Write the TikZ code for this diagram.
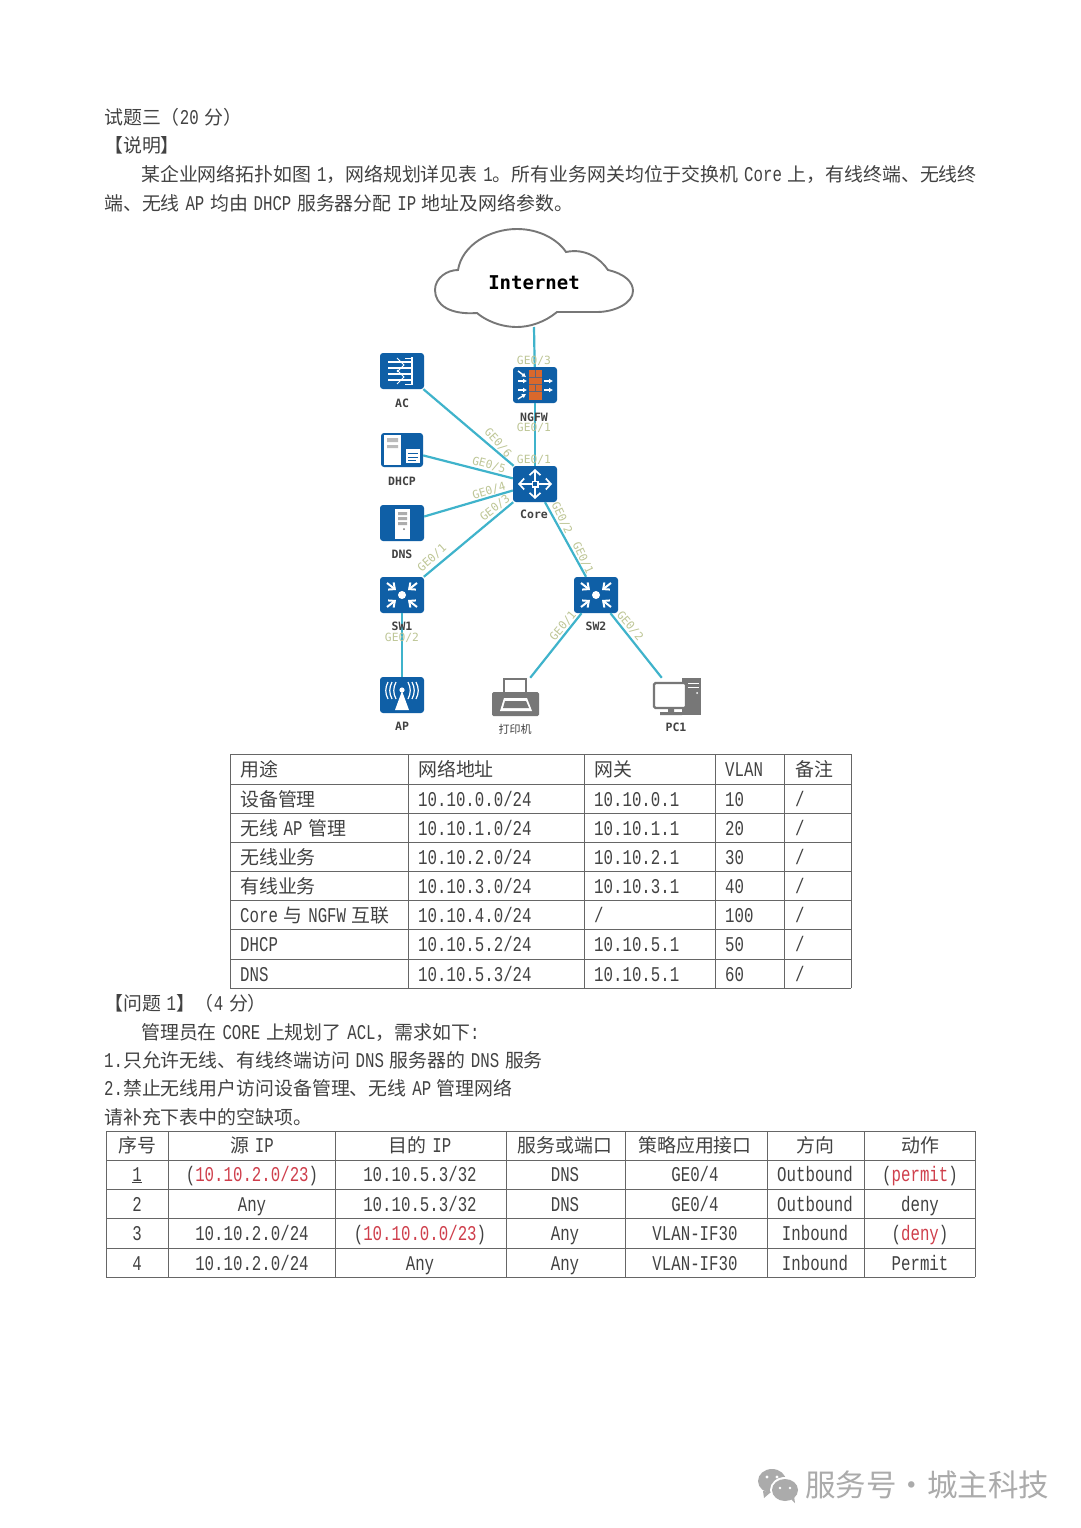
\documentclass[tikz,border=0pt]{standalone}
\usepackage{fontspec}
\usetikzlibrary{arrows.meta, positioning, shapes.geometric}
\setmainfont{Liberation Mono}[FakeStretch=0.75]
\newfontfamily\cjk[Scale=0.9]{Noto Sans CJK SC}
\newfontfamily\devmono{DejaVu Sans Mono}
\newfontfamily\marksans{Noto Sans CJK SC}
\newcommand{\zh}[1]{{\cjk #1}}
\newcommand{\gap}{\hspace{5.7pt}}
\newcommand{\red}[1]{\textcolor{ansred}{#1}}
\definecolor{anstext}{HTML}{424242}
\definecolor{ansred}{HTML}{CF3F4C}
\definecolor{devblue}{HTML}{0F5FA6}
\definecolor{linkcyan}{HTML}{3FB3CB}
\definecolor{portgreen}{HTML}{BEC696}
\definecolor{gridgray}{HTML}{666666}
\definecolor{devgray}{HTML}{777777}
\definecolor{brick}{HTML}{D9682C}
\definecolor{markgray}{HTML}{ABABAB}
\tikzset{
  bodyline/.style={anchor=base west, inner sep=0pt, text=anstext, font=\fontsize{21}{21}\selectfont},
  cellleft/.style={bodyline},
  cellmid/.style={bodyline, anchor=base},
  grid/.style={draw=gridgray, line width=1pt},
  device/.style={rectangle, rounded corners=3pt, fill=devblue, minimum width=44pt, minimum height=36pt, inner sep=0pt},
  plainbox/.style={rectangle, minimum width=46pt, minimum height=38pt, inner sep=0pt},
  devlbl/.style={inner sep=0pt, text=anstext, font=\devmono\bfseries\fontsize{11.5}{11.5}\selectfont},
  port/.style={inner sep=0pt, text=portgreen, font=\devmono\fontsize{11.3}{11.3}\selectfont},
  link/.style={draw=linkcyan, line width=2.2pt},
  swglyph/.pic={
    \fill[white] (0,0) circle (4);
    \foreach \sx/\sy in {-1/-1,1/-1,-1/1,1/1}
      \draw[white, line width=2pt, -{Straight Barb[length=5pt,width=9pt]}] (\sx*15,\sy*12) -- (\sx*6,\sy*5);
  },
  coreglyph/.pic={
    \foreach \ax/\ay in {0/-15,0/15,-17/0,17/0}
      \draw[white, line width=1.7pt, -{Straight Barb[length=5pt,width=11pt]}] (0,0) -- (\ax,\ay);
    \fill[white] (-3.5,-3.5) rectangle (3.5,3.5);
    \fill[devblue] (-1.7,-1.7) rectangle (1.7,1.7);
  },
}
\begin{document}
\begin{tikzpicture}[x=1pt, y=-1pt]
  \useasboundingbox[fill=white] (0,0) rectangle (1081,1528);
  % intro
  \node[bodyline] (h1) at (104,124) {\zh{试题三（}20\gap\zh{分）}};
  \node[bodyline] (h2) at (104,152) {\zh{【说明】}};
  \node[bodyline] (p1) at (141,181) {\zh{某企业网络拓扑如图}\gap 1\zh{，网络规划详见表}\gap 1\zh{。所有业务网关均位于交换机}\gap Core\gap\zh{上，有线终端、无线终}};
  \node[bodyline] (p2) at (104,210) {\zh{端、无线}\gap AP\gap\zh{均由}\gap DHCP\gap\zh{服务器分配}\gap IP\gap\zh{地址及网络参数。}};
  % cloud
  \draw[draw=devgray, line width=1.9pt, fill=white] (458,270) .. controls (462,245) and (490,229) .. (517,229)
    .. controls (540,229) and (558,240) .. (566,252) .. controls (585,248) and (600,258) .. (608,270)
    .. controls (625,274) and (633,282) .. (633,291) .. controls (633,303) and (615,312) .. (597,312)
    .. controls (580,312) and (570,312) .. (557,312) .. controls (545,322) and (530,327) .. (517,327)
    .. controls (500,327) and (485,320) .. (477,313) .. controls (450,315) and (435,305) .. (435,290)
    .. controls (435,278) and (447,270) .. (458,270) -- cycle;
  \node[inner sep=0pt, text=black, font=\devmono\bfseries\fontsize{19}{19}\selectfont] (inet) at (534,283) {Internet};
  \coordinate (cloudb) at (534,327);
  % devices
  \node[device] (ac) at (402,371) {};
  \node[device] (ngfw) at (535,385) {};
  \node[device, minimum width=42pt, minimum height=34pt] (dhcp) at (402,450) {};
  \node[device] (core) at (535,484) {};
  \node[device] (dns) at (402,523) {};
  \node[device] (swa) at (402,595) {};
  \node[device] (swb) at (596,595) {};
  \node[device] (ap) at (402,695) {};
  \node[plainbox] (printer) at (515,697) {};
  \node[plainbox] (pc) at (677,697) {};
  % links
  \draw[link] (cloudb) -- (ngfw);
  \draw[link] (ngfw) -- (core);
  \draw[link] (ac) -- (core);
  \draw[link] (dhcp) -- (core);
  \draw[link] (dns) -- (core);
  \draw[link] (swa) -- (core);
  \draw[link] (core) -- (swb);
  \draw[link] (swa) -- (ap);
  \draw[link] (swb) -- (printer);
  \draw[link] (swb) -- (pc);
  % glyphs
  \pic at (core) {coreglyph};
  \pic at (swa) {swglyph};
  \pic at (swb) {swglyph};
  \begin{scope}[shift={(ac.center)}]
    \draw[white, line width=1.3pt] (-14,-9) -- (9,-9) (-14,-3) -- (9,-3) (-14,3) -- (9,3) (-14,9) -- (9,9);
    \draw[white, line width=1pt] (-5,-13) -- (2,-6) -- (-5,1) (-5,-1) -- (2,6) -- (-5,13);
    \draw[white, line width=2.2pt] (10,-14) -- (10,14);
    \draw[white, line width=1pt] (3,-13) -- (10,-13) (3,13) -- (10,13);
  \end{scope}
  \begin{scope}[shift={(ngfw.center)}]
    \fill[brick] (-6,-15) rectangle (7,15);
    \draw[devblue!60!brick, line width=.5pt] (-6,-8) -- (7,-8) (-6,-1) -- (7,-1) (-6,6) -- (7,6) (0,-15) -- (0,-8) (0,-1) -- (0,6);
    \foreach \ya in {-4,5} {
      \draw[white, line width=1.4pt, -{Latex[length=4pt,width=5pt]}] (-17,\ya) -- (-8,\ya);
      \draw[white, line width=1.4pt, -{Latex[length=4pt,width=5pt]}] (9,\ya) -- (18,\ya);
    }
    \draw[white, line width=1.4pt, -{Latex[length=4pt,width=5pt]}] (-17,-14) -- (-9,-8);
    \draw[white, line width=1.4pt, -{Latex[length=4pt,width=5pt]}] (-17,14) -- (-9,9);
  \end{scope}
  \begin{scope}[shift={(dhcp.center)}]
    \fill[white] (-18,-15) rectangle (-1,15);
    \fill[devgray!50] (-15,-12) rectangle (-4,-8) (-15,-5) rectangle (-4,-2);
    \fill[white] (4,-1) rectangle (18,13);
    \draw[devblue, line width=.7pt] (6,3) -- (16,3) (6,7) -- (16,7) (6,10) -- (14,10);
  \end{scope}
  \begin{scope}[shift={(dns.center)}]
    \fill[white] (-7,-14) rectangle (8,16);
    \fill[devgray!60] (-4,-11) rectangle (5,-8) (-4,-6) rectangle (5,-3) (-4,-1) rectangle (5,2);
    \fill[devgray] (2,6) circle (1);
  \end{scope}
  \begin{scope}[shift={(ap.center)}]
    \fill[white] (0,-4) -- (-7,15) -- (7,15) -- cycle;
    \fill[white] (0,-5) circle (2.6);
    \foreach \ra in {6,10,14} {
      \draw[white, line width=1.2pt] (-\ra,-13) .. controls (-\ra-3,-7) and (-\ra-3,-2) .. (-\ra,4);
      \draw[white, line width=1.2pt] (\ra,-13) .. controls (\ra+3,-7) and (\ra+3,-2) .. (\ra,4);
    }
  \end{scope}
  % printer and pc
  \draw[draw=devgray, line width=1.4pt, fill=white] (504,679) rectangle (526,693);
  \fill[devgray, rounded corners=1.5pt] (492,692) rectangle (539,716);
  \fill[white] (500,711) -- (504,698) -- (527,698) -- (532,711) -- cycle;
  \fill[devgray] (505,701) -- (526,701) -- (529,708) -- (503,708) -- cycle;
  \fill[devgray] (682,678) rectangle (701,715);
  \draw[white, line width=.8pt] (688,683) -- (699,683) (688,687) -- (699,687);
  \fill[white] (697,693) circle (1);
  \draw[draw=devgray, line width=2.2pt, fill=white, rounded corners=1.5pt] (654,683) rectangle (686,708);
  \fill[devgray] (668,708) rectangle (674,713) (660,712) rectangle (682,715);
  % device labels
  \node[devlbl] (aclbl) at (402,403) {AC};
  \node[devlbl] (ngfwlbl) at (534,417) {NGFW};
  \node[devlbl] (dhcplbl) at (402,481) {DHCP};
  \node[devlbl] (corelbl) at (534,514) {Core};
  \node[devlbl] (dnslbl) at (402,554) {DNS};
  \node[devlbl] (swalbl) at (402,626) {SW1};
  \node[devlbl] (swblbl) at (596,626) {SW2};
  \node[devlbl] (aplbl) at (402,726) {AP};
  \node[devlbl, font=\marksans\fontsize{11}{11}\selectfont] (printerlbl) at (515,729) {打印机};
  \node[devlbl] (pclbl) at (676,727) {PC1};
  % ports
  \node[port] (pa) at (534,361) {GE0/3};
  \node[port] (pb) at (534,428) {GE0/1};
  \node[port] (pc1) at (534,460) {GE0/1};
  \node[port, rotate=-48] (pd) at (498,443) {GE0/6};
  \node[port, rotate=-15] (pe) at (489,465) {GE0/5};
  \node[port, rotate=17] (pf) at (489,491) {GE0/4};
  \node[port, rotate=38] (pg) at (495,508) {GE0/3};
  \node[port, rotate=42] (ph) at (432,558) {GE0/1};
  \node[port, rotate=-65] (pi) at (562,518) {GE0/2};
  \node[port, rotate=-65] (pj) at (583,558) {GE0/1};
  \node[port, rotate=50] (pk) at (563,626) {GE0/1};
  \node[port, rotate=-50] (pl) at (630,626) {GE0/2};
  \node[port] (pm) at (402,638) {GE0/2};
  % table one
  \foreach \gx in {230,408,584,715,784,851}
    \draw[grid] (\gx,754) -- (\gx,988);
  \foreach \gy in {754,784,813,842,871,900,929,959,988}
    \draw[grid] (230,\gy) -- (851,\gy);
  \foreach \ry/\ca/\cb/\cc/\cd/\ce in {
    776/{\zh{用途}}/{\zh{网络地址}}/{\zh{网关}}/VLAN/{\zh{备注}},
    806/{\zh{设备管理}}/{10.10.0.0/24}/10.10.0.1/10/{/},
    835/{\zh{无线}\gap AP\gap\zh{管理}}/{10.10.1.0/24}/10.10.1.1/20/{/},
    864/{\zh{无线业务}}/{10.10.2.0/24}/10.10.2.1/30/{/},
    893/{\zh{有线业务}}/{10.10.3.0/24}/10.10.3.1/40/{/},
    922/{Core\gap\zh{与}\gap NGFW\gap\zh{互联}}/{10.10.4.0/24}/{/}/100/{/},
    951/DHCP/{10.10.5.2/24}/10.10.5.1/50/{/},
    981/DNS/{10.10.5.3/24}/10.10.5.1/60/{/}} {
    \node[cellleft] (ua\ry) at (240,\ry) {\ca};
    \node[cellleft] (net\ry) at (418,\ry) {\cb};
    \node[cellleft] (gw\ry) at (594,\ry) {\cc};
    \node[cellleft] (vl\ry) at (725,\ry) {\cd};
    \node[cellleft] (nt\ry) at (795,\ry) {\ce};
  }
  % question
  \node[bodyline] (q1) at (104,1010) {\zh{【问题}\gap 1\zh{】（}4\gap\zh{分）}};
  \node[bodyline] (q2) at (141,1039) {\zh{管理员在}\gap CORE\gap\zh{上规划了}\gap ACL\zh{，需求如下}:};
  \node[bodyline] (q3) at (104,1067) {1.\zh{只允许无线、有线终端访问}\gap DNS\gap\zh{服务器的}\gap DNS\gap\zh{服务}};
  \node[bodyline] (q4) at (104,1095) {2.\zh{禁止无线用户访问设备管理、无线}\gap AP\gap\zh{管理网络}};
  \node[bodyline] (q5) at (104,1124) {\zh{请补充下表中的空缺项。}};
  % table two
  \foreach \gx in {106,168,335,506,625,767,864,975}
    \draw[grid] (\gx,1131) -- (\gx,1277);
  \foreach \gy in {1131,1160,1189,1218,1248,1277}
    \draw[grid] (106,\gy) -- (975,\gy);
  \foreach \ry/\ca/\cb/\cc/\cd/\ce/\cf/\cg in {
    1152/{\zh{序号}}/{\zh{源}\gap IP}/{\zh{目的}\gap IP}/{\zh{服务或端口}}/{\zh{策略应用接口}}/{\zh{方向}}/{\zh{动作}},
    1181/{\underline{1}}/{(\red{10.10.2.0/23})}/{10.10.5.3/32}/DNS/{GE0/4}/Outbound/{(\red{permit})},
    1211/2/Any/{10.10.5.3/32}/DNS/{GE0/4}/Outbound/deny,
    1240/3/{10.10.2.0/24}/{(\red{10.10.0.0/23})}/Any/VLAN-IF30/Inbound/{(\red{deny})},
    1270/4/{10.10.2.0/24}/Any/Any/VLAN-IF30/Inbound/Permit} {
    \node[cellmid] (no\ry) at (137,\ry) {\ca};
    \node[cellmid] (src\ry) at (252,\ry) {\cb};
    \node[cellmid] (dst\ry) at (420,\ry) {\cc};
    \node[cellmid] (svc\ry) at (565,\ry) {\cd};
    \node[cellmid] (ifc\ry) at (695,\ry) {\ce};
    \node[cellmid] (dir\ry) at (815,\ry) {\cf};
    \node[cellmid] (act\ry) at (920,\ry) {\cg};
  }
  % mark
  \fill[markgray] (772,1481) ellipse (14 and 12);
  \fill[markgray] (763,1491) -- (764,1498) -- (771,1492) -- cycle;
  \fill[white] (785,1490) ellipse (15 and 13);
  \fill[markgray] (785,1490) ellipse (13 and 11);
  \fill[markgray] (791,1499) -- (795,1503) -- (794,1496) -- cycle;
  \fill[white] (767,1477) circle (1.7) (777,1477) circle (1.7) (780,1488) circle (1.4) (790,1488) circle (1.4);
  \node[anchor=base west, inner sep=0pt, text=markgray, font=\marksans\fontsize{30.5}{30.5}\selectfont] (markname) at (805,1496) {服务号·城主科技};
\end{tikzpicture}
\end{document}
